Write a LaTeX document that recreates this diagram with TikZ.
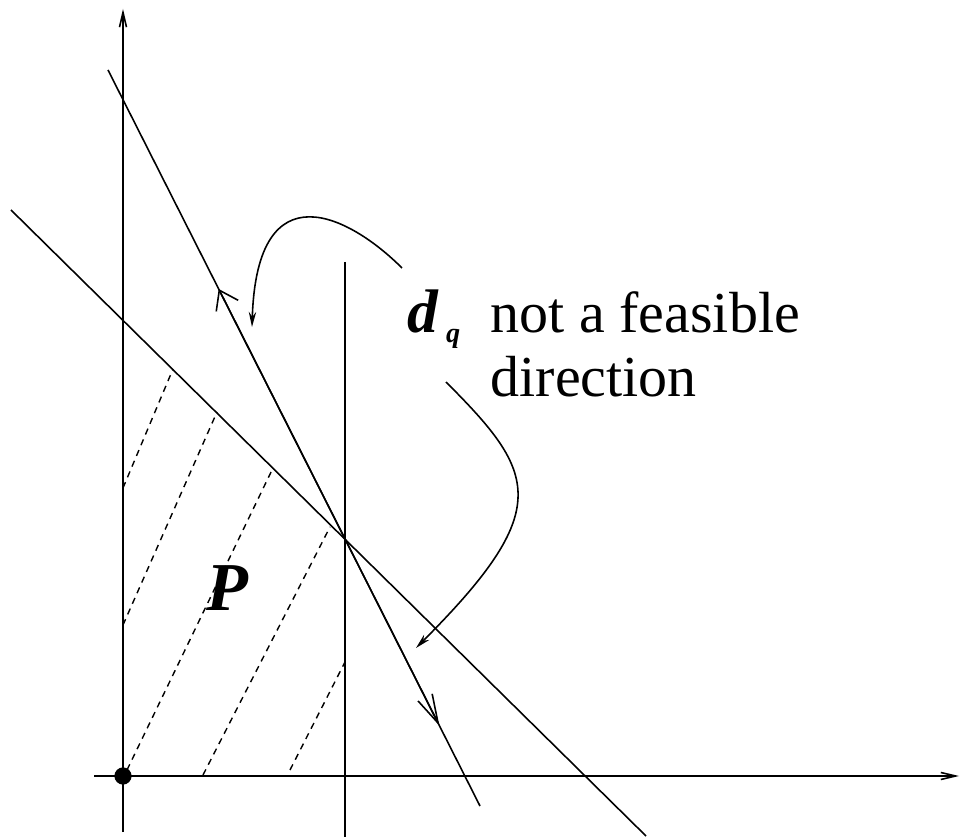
\documentclass[tikz,border=0pt]{standalone}
\usepackage{fontspec}
\setmainfont{Liberation Serif}
\usetikzlibrary{arrows.meta,positioning,calc}

\begin{document}
\begin{tikzpicture}[
    x=0.1mm, y=-0.1mm,
    ln/.style={line width=0.45pt},
    axisln/.style={line width=0.45pt, -{Straight Barb[length=4.2pt, width=2pt]}},
    hatch/.style={line width=0.4pt, dash pattern=on 1.8pt off 1.5pt},
    upbarb/.style={line width=0.45pt, -{Straight Barb[length=5pt, width=7pt]}},
    dnbarb/.style={line width=0.45pt, -{Straight Barb[length=8.2pt, width=4.5pt]}},
    curvarr/.style={line width=0.45pt, -{Stealth[length=4.3pt, width=2.1pt]}},
    origdot/.style={circle, fill, inner sep=0pt, minimum size=4.9pt},
    lbl/.style={font=\fontsize{16.5}{18}\selectfont, inner sep=0pt}
]
\useasboundingbox (0,0) rectangle (960,837);

% axes
\coordinate (ybot) at (123,832);
\coordinate (ytop) at (123,9);
\coordinate (xlft) at (94,776);
\coordinate (xrgt) at (959,776);
\draw[axisln] (ybot) -- (ytop);
\draw[axisln] (xlft) -- (xrgt);
\node[origdot] (O) at (123,776) {};

% constraint lines
\coordinate (X) at (345,539);
\coordinate (Atop) at (108,70);
\coordinate (Abot) at (480,806);
\coordinate (Btop) at (11,210);
\coordinate (Bbot) at (646,836);
\coordinate (Ctop) at (345,262);
\coordinate (Cbot) at (345,837);
\draw[ln] (Atop) -- (Abot);
\draw[ln] (Btop) -- (Bbot);
\draw[ln] (Ctop) -- (Cbot);

% direction arrows on the steep line
\coordinate (Aup) at ($(Atop)!0.2975!(Abot)$);
\coordinate (Adn) at ($(Atop)!0.891!(Abot)$);
\draw[upbarb] (X) -- (Aup);
\draw[dnbarb] (X) -- (Adn);

% hatching of P
\draw[hatch] (123,488) -- (173,369);
\draw[hatch] (123,625) -- (217,412);
\draw[hatch] (127,770) -- (273,468);
\draw[hatch] (203,775) -- (330,527);
\draw[hatch] (290,770) -- (345,662);

% labels
\node[lbl, font=\fontsize{19.5}{21}\selectfont, anchor=base] (P) at (228,611) {\textbf{\textit{P}}};
\node[lbl, anchor=base west] (dq) at (407,333) {\fontsize{17.5}{19}\selectfont\textbf{\textit{d}}\hspace{2pt}\raisebox{-2.6pt}{\fontsize{8}{9}\selectfont\textbf{\textit{q}}}};
\node[lbl, anchor=base west] (feas) at (490,333) {not a feasible};
\node[lbl, anchor=base west] (dirn) at (490,397) {direction};

% curved pointers
\coordinate (c1s) at (402,268);
\coordinate (c1e) at (252,327);
\coordinate (c2s) at (446,382);
\coordinate (c2e) at (416,648);
\draw[curvarr] (c1s) .. controls (350,216) and (257,167) .. (c1e);
\draw[curvarr] (c2s) .. controls (537,473) and (555,509) .. (c2e);
\end{tikzpicture}
\end{document}
